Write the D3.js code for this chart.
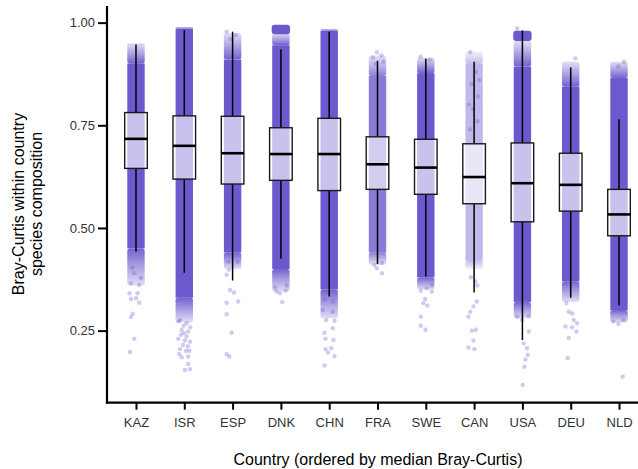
<!DOCTYPE html>
<html>
<head>
<meta charset="utf-8">
<script src="https://cdn.jsdelivr.net/npm/d3@7"></script>
<style>
  body { margin: 0; background: #fff; }
  text { font-family: "Liberation Sans", Arial, sans-serif; }
</style>
</head>
<body>
<script>
// countries ordered by median Bray-Curtis
let countries = ["KAZ", "ISR", "ESP", "DNK", "CHN", "FRA", "SWE", "CAN", "USA", "DEU", "NLD"];

// box plot stats
let q1 =        [0.645, 0.619, 0.607, 0.616, 0.591, 0.594, 0.582, 0.559, 0.515, 0.541, 0.481];
let medians =   [0.717, 0.700, 0.682, 0.680, 0.680, 0.655, 0.647, 0.624, 0.609, 0.605, 0.533];
let q3 =        [0.781, 0.773, 0.772, 0.744, 0.767, 0.722, 0.716, 0.705, 0.707, 0.682, 0.594];
let whiskLo =   [0.442, 0.391, 0.372, 0.425, 0.333, 0.412, 0.382, 0.343, 0.227, 0.330, 0.311];
let whiskHi =   [0.947, 0.982, 0.978, 0.935, 0.978, 0.907, 0.912, 0.905, 0.981, 0.891, 0.765];

// the dense part of each point cloud and how far its thin fringe reaches
let denseLo =   [0.45, 0.33, 0.44, 0.40, 0.35, 0.44, 0.38, 0.42, 0.32, 0.37, 0.30];
let denseHi =   [0.90, 0.985, 0.91, 0.945, 0.98, 0.87, 0.877, 0.90, 0.893, 0.844, 0.865];
let fringeLo =  [0.36, 0.27, 0.40, 0.345, 0.28, 0.41, 0.35, 0.40, 0.28, 0.32, 0.27];
let fringeHi =  [0.95, 0.99, 0.975, 0.975, 0.985, 0.92, 0.915, 0.93, 0.956, 0.905, 0.905];
let density =   [1, 1, 1, 1, 1, 0.8, 1, 0.42, 1, 1, 1];

// separate dense clusters near 1.0
let topClusters = [["DNK", 0.972, 0.995], ["USA", 0.955, 0.98]];

// single points outside the dense part: [country, value, jitter (-1..1)]
let strayPoints = [
  ["KAZ", 0.341, -1], ["KAZ", 0.341, 0.25], ["KAZ", 0.327, -0.77], ["KAZ", 0.329, 0], ["KAZ", 0.318, 0.5],
  ["KAZ", 0.291, -0.52], ["KAZ", 0.283, -0.77], ["KAZ", 0.230, -0.26], ["KAZ", 0.198, -0.92],
  ["KAZ", 0.365, -0.77], ["KAZ", 0.361, 0.5], ["KAZ", 0.39, -0.26], ["KAZ", 0.378, 0.77], ["KAZ", 0.403, -0.55],
  ["ISR", 0.276, -0.66], ["ISR", 0.268, 0.37], ["ISR", 0.252, -0.4], ["ISR", 0.248, 0.6], ["ISR", 0.230, -0.92],
  ["ISR", 0.226, 0.1], ["ISR", 0.223, 0.88], ["ISR", 0.205, -0.66], ["ISR", 0.201, 0.26], ["ISR", 0.201, 0.77],
  ["ISR", 0.193, -0.77], ["ISR", 0.185, -0.4], ["ISR", 0.187, 0.6], ["ISR", 0.169, 0.6], ["ISR", 0.154, 0.1],
  ["ISR", 0.156, 0.88], ["ISR", 0.262, -0.1], ["ISR", 0.258, 0.9], ["ISR", 0.240, -0.5], ["ISR", 0.236, 0.35],
  ["ISR", 0.215, -0.2], ["ISR", 0.212, 0.55], ["ISR", 0.272, -0.9], ["ISR", 0.244, -0.05],
  ["ESP", 0.418, -0.68], ["ESP", 0.418, 0.77], ["ESP", 0.398, -0.57], ["ESP", 0.386, -0.92], ["ESP", 0.349, -0.4],
  ["ESP", 0.343, 0.2], ["ESP", 0.318, -0.92], ["ESP", 0.321, 0.86], ["ESP", 0.290, -0.92], ["ESP", 0.245, -0.15],
  ["ESP", 0.193, -0.92], ["ESP", 0.187, -0.52], ["ESP", 0.978, -0.92], ["ESP", 0.97, 0.5], ["ESP", 0.96, -0.3],
  ["DNK", 0.345, -0.66], ["DNK", 0.347, 0.72], ["DNK", 0.341, -0.15], ["DNK", 0.320, 0.2], ["DNK", 0.36, 0.9], ["DNK", 0.355, -0.9],
  ["CHN", 0.325, -0.72], ["CHN", 0.321, 0.55], ["CHN", 0.300, -0.98], ["CHN", 0.296, 0.55], ["CHN", 0.276, -0.46],
  ["CHN", 0.274, 0.82], ["CHN", 0.245, -0.72], ["CHN", 0.256, 0.55], ["CHN", 0.230, -0.57], ["CHN", 0.227, 0.66],
  ["CHN", 0.205, -0.57], ["CHN", 0.207, 0.3], ["CHN", 0.197, -0.2], ["CHN", 0.188, 0.82], ["CHN", 0.165, -0.72],
  ["FRA", 0.41, -0.5], ["FRA", 0.415, 0.67], ["FRA", 0.402, -0.1], ["FRA", 0.39, 0.67], ["FRA", 0.928, -0.1],
  ["FRA", 0.92, 0.6], ["FRA", 0.915, -0.7], ["FRA", 0.905, 0.9], ["FRA", 0.90, -0.3],
  ["SWE", 0.347, -0.77], ["SWE", 0.353, 0.15], ["SWE", 0.361, 0.92], ["SWE", 0.345, 0.92], ["SWE", 0.327, -0.1],
  ["SWE", 0.317, -0.37], ["SWE", 0.311, 0.25], ["SWE", 0.284, -0.77], ["SWE", 0.262, -0.77], ["SWE", 0.252, -0.06],
  ["SWE", 0.917, -0.8], ["SWE", 0.91, 0.6],
  ["CAN", 0.321, 0.4], ["CAN", 0.309, -0.1], ["CAN", 0.296, -0.6], ["CAN", 0.284, -0.88], ["CAN", 0.250, -0.35],
  ["CAN", 0.252, 0.26], ["CAN", 0.226, -0.1], ["CAN", 0.209, -0.88], ["CAN", 0.205, 0.05], ["CAN", 0.928, -0.6],
  ["CAN", 0.36, 0.5], ["CAN", 0.38, -0.5], ["CAN", 0.37, 0.2], ["CAN", 0.88, 0.3], ["CAN", 0.85, -0.4],
  ["CAN", 0.82, 0.6], ["CAN", 0.79, -0.2], ["CAN", 0.76, 0.5], ["CAN", 0.74, -0.6], ["CAN", 0.86, 0.8], ["CAN", 0.80, -0.8],
  ["USA", 0.284, -0.8], ["USA", 0.286, 0.98], ["USA", 0.276, -0.05], ["USA", 0.248, 0.98], ["USA", 0.219, 0.2],
  ["USA", 0.207, 0.72], ["USA", 0.191, 0.82], ["USA", 0.180, 0.46], ["USA", 0.162, 0.3], ["USA", 0.118, 0.05], ["USA", 0.986, -0.8],
  ["DEU", 0.317, -0.66], ["DEU", 0.296, -0.3], ["DEU", 0.292, 0.22], ["DEU", 0.276, 0.46], ["DEU", 0.260, -0.82],
  ["DEU", 0.258, 0.22], ["DEU", 0.268, 0.98], ["DEU", 0.248, 0.88], ["DEU", 0.232, -0.3], ["DEU", 0.183, -0.46], ["DEU", 0.913, 0.72],
  ["NLD", 0.272, -0.88], ["NLD", 0.266, -0.1], ["NLD", 0.276, 0.66], ["NLD", 0.138, 0.57], ["NLD", 0.905, 0.77], ["NLD", 0.893, -0.1]
];

let yTicks = [0.25, 0.50, 0.75, 1.00];

let width = 638, height = 469;
let pointColor = "#6a5acd";
let jitter = 6.5, dotR = 2.2;

let svg = d3.select("body").append("svg")
  .attr("width", width)
  .attr("height", height);

let x = d3.scalePoint()
  .domain(countries)
  .range([107, 648])
  .padding(0.6);

let y = d3.scaleLinear()
  .domain([0.0745, 1.0405])
  .range([402.7, 6]);

let defs = svg.append("defs");
defs.append("filter").attr("id", "soft")
  .append("feGaussianBlur").attr("stdDeviation", 0.6);

let fadeUp = defs.append("linearGradient").attr("id", "fadeUp")
  .attr("x1", 0).attr("y1", 0).attr("x2", 0).attr("y2", 1);
fadeUp.append("stop").attr("offset", "0%").attr("stop-color", pointColor).attr("stop-opacity", 0.2);
fadeUp.append("stop").attr("offset", "55%").attr("stop-color", pointColor).attr("stop-opacity", 0.6);
fadeUp.append("stop").attr("offset", "100%").attr("stop-color", pointColor).attr("stop-opacity", 0.95);
let fadeDown = defs.append("linearGradient").attr("id", "fadeDown")
  .attr("x1", 0).attr("y1", 0).attr("x2", 0).attr("y2", 1);
fadeDown.append("stop").attr("offset", "0%").attr("stop-color", pointColor).attr("stop-opacity", 0.95);
fadeDown.append("stop").attr("offset", "45%").attr("stop-color", pointColor).attr("stop-opacity", 0.6);
fadeDown.append("stop").attr("offset", "100%").attr("stop-color", pointColor).attr("stop-opacity", 0.2);

let half = jitter + dotR;
let clouds = svg.append("g").attr("filter", "url(#soft)");

// dense core
clouds.selectAll(".core").data(countries).enter().append("rect")
  .attr("class", "core")
  .attr("x", d => x(d) - half)
  .attr("width", half * 2)
  .attr("y", (d, i) => y(denseHi[i]))
  .attr("height", (d, i) => y(denseLo[i]) - y(denseHi[i]))
  .attr("fill", pointColor)
  .attr("opacity", (d, i) => density[i]);

// upper and lower fringe
clouds.selectAll(".fringeTop").data(countries).enter().append("rect")
  .attr("class", "fringeTop")
  .attr("x", d => x(d) - half)
  .attr("width", half * 2)
  .attr("y", (d, i) => y(fringeHi[i]))
  .attr("height", (d, i) => y(denseHi[i]) - y(fringeHi[i]))
  .attr("rx", 2.5)
  .attr("fill", "url(#fadeUp)")
  .attr("opacity", (d, i) => density[i]);

clouds.selectAll(".fringeBottom").data(countries).enter().append("rect")
  .attr("class", "fringeBottom")
  .attr("x", d => x(d) - half)
  .attr("width", half * 2)
  .attr("y", (d, i) => y(denseLo[i]))
  .attr("height", (d, i) => y(fringeLo[i]) - y(denseLo[i]))
  .attr("rx", 2.5)
  .attr("fill", "url(#fadeDown)")
  .attr("opacity", (d, i) => density[i]);

clouds.selectAll(".cluster").data(topClusters).enter().append("rect")
  .attr("class", "cluster")
  .attr("x", d => x(d[0]) - half - 0.5)
  .attr("width", half * 2 + 1)
  .attr("y", d => y(d[2]))
  .attr("height", d => y(d[1]) - y(d[2]))
  .attr("rx", 3)
  .attr("fill", pointColor);

svg.append("g").selectAll("circle").data(strayPoints).enter().append("circle")
  .attr("cx", d => x(d[0]) + d[2] * jitter)
  .attr("cy", d => y(d[1]))
  .attr("r", dotR)
  .attr("fill", pointColor)
  .attr("opacity", 0.32);

// box plots
let boxW = 22.6;
let boxes = svg.append("g");

boxes.selectAll(".wUp").data(countries).enter().append("line")
  .attr("x1", d => x(d)).attr("x2", d => x(d))
  .attr("y1", (d, i) => y(whiskHi[i])).attr("y2", (d, i) => y(q3[i]))
  .attr("stroke", "#000").attr("stroke-width", 1.5);

boxes.selectAll(".wDown").data(countries).enter().append("line")
  .attr("x1", d => x(d)).attr("x2", d => x(d))
  .attr("y1", (d, i) => y(q1[i])).attr("y2", (d, i) => y(whiskLo[i]))
  .attr("stroke", "#000").attr("stroke-width", 1.5);

boxes.selectAll(".box").data(countries).enter().append("rect")
  .attr("x", d => x(d) - boxW / 2)
  .attr("width", boxW)
  .attr("y", (d, i) => y(q3[i]))
  .attr("height", (d, i) => y(q1[i]) - y(q3[i]))
  .attr("fill", "#fff").attr("fill-opacity", 0.63)
  .attr("stroke", "#1a1a1a").attr("stroke-width", 1.4);

boxes.selectAll(".med").data(countries).enter().append("line")
  .attr("x1", d => x(d) - boxW / 2).attr("x2", d => x(d) + boxW / 2)
  .attr("y1", (d, i) => y(medians[i])).attr("y2", (d, i) => y(medians[i]))
  .attr("stroke", "#000").attr("stroke-width", 2.6);

// axes
let yAxis = svg.append("g")
  .attr("transform", "translate(107,0)")
  .call(d3.axisLeft(y).tickValues(yTicks).tickFormat(d3.format(".2f")).tickSize(9).tickPadding(3));

let xAxis = svg.append("g")
  .attr("transform", "translate(0,402.7)")
  .call(d3.axisBottom(x).tickSize(7).tickPadding(8));

[yAxis, xAxis].forEach(ax => {
  ax.select(".domain").attr("stroke", "#000").attr("stroke-width", 2.2);
  ax.selectAll(".tick line").attr("stroke", "#000").attr("stroke-width", 2);
  ax.selectAll(".tick text").attr("fill", "#333").style("font-size", "13px");
});
yAxis.select(".domain").attr("d", "M0,6V403.8");
xAxis.select(".domain").attr("d", "M105.9,0H648");

svg.append("text")
  .attr("x", 378).attr("y", 465)
  .attr("text-anchor", "middle")
  .style("font-size", "16px")
  .text("Country (ordered by median Bray-Curtis)");

let yTitle = svg.append("text")
  .attr("transform", "translate(24,204) rotate(-90)")
  .attr("text-anchor", "middle")
  .style("font-size", "16px");
yTitle.append("tspan").attr("x", 0).attr("y", 0).text("Bray-Curtis within country");
yTitle.append("tspan").attr("x", 0).attr("y", 18).text("species composition");
</script>
</body>
</html>
